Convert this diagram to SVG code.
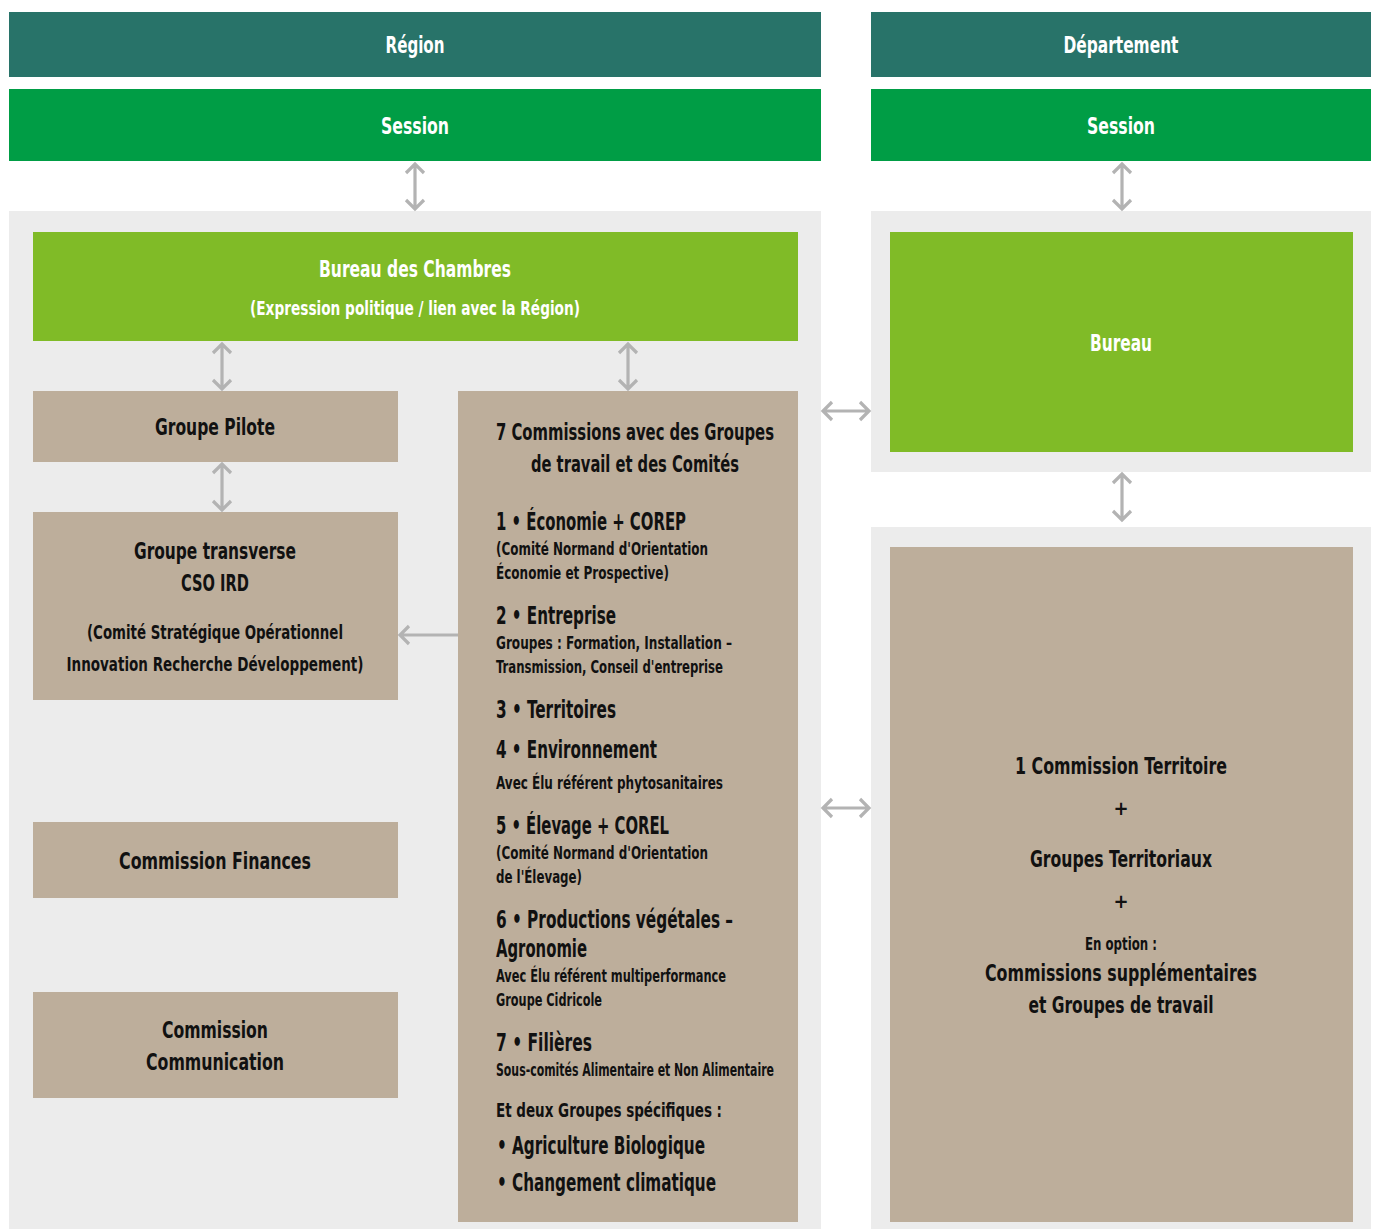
<svg xmlns="http://www.w3.org/2000/svg" width="1376" height="1229" viewBox="0 0 1376 1229">
<style>
text{font-family:"Liberation Sans Narrow","DejaVu Sans Condensed","Liberation Sans",sans-serif;font-stretch:condensed;}
.w{fill:#ffffff;font-weight:bold;font-size:23px;text-anchor:middle;}
.b{fill:#111111;font-weight:bold;font-size:23px;}
.l{font-size:24px;}
.m{fill:#111111;font-weight:bold;font-size:20px;}
.s{fill:#111111;font-weight:bold;font-size:18px;}
.p{fill:#111111;font-weight:bold;font-size:20px;text-anchor:middle;}
.c{text-anchor:middle;}
.head{fill:#287369;}
.sess{fill:#009d45;}
.panel{fill:#ececec;}
.lime{fill:#80bb27;}
.tan{fill:#bdae9b;}
.arr{fill:none;stroke:#b3b3b3;stroke-width:3.2;}
</style>
<rect width="1376" height="1229" fill="#ffffff"/>
<g id="region"><rect class="head" x="9" y="12" width="812" height="65"/><text class="w" x="415" y="53" textLength="59" lengthAdjust="spacingAndGlyphs">Région</text></g>
<g id="departement"><rect class="head" x="871" y="12" width="500" height="65"/><text class="w" x="1121" y="53" textLength="115" lengthAdjust="spacingAndGlyphs">Département</text></g>
<g id="session-region"><rect class="sess" x="9" y="89" width="812" height="72"/><text class="w" x="415" y="134" textLength="68" lengthAdjust="spacingAndGlyphs">Session</text></g>
<g id="session-dep"><rect class="sess" x="871" y="89" width="500" height="72"/><text class="w" x="1121" y="134" textLength="68" lengthAdjust="spacingAndGlyphs">Session</text></g>
<g id="panels"><rect class="panel" x="9" y="211" width="812" height="1018"/><rect class="panel" x="871" y="211" width="500" height="261"/><rect class="panel" x="871" y="527" width="500" height="702"/></g>
<g id="bureau-chambres"><rect class="lime" x="33" y="232" width="765" height="109"/><text class="w" x="415" y="277" textLength="192" lengthAdjust="spacingAndGlyphs">Bureau des Chambres</text><text class="w" x="415" y="315" style="font-size:20px" textLength="330" lengthAdjust="spacingAndGlyphs">(Expression politique / lien avec la Région)</text></g>
<g id="bureau"><rect class="lime" x="890" y="232" width="463" height="220"/><text class="w" x="1121" y="351" textLength="62" lengthAdjust="spacingAndGlyphs">Bureau</text></g>
<g id="groupe-pilote"><rect class="tan" x="33" y="391" width="365" height="71"/><text class="b c" x="215" y="435" textLength="120" lengthAdjust="spacingAndGlyphs">Groupe Pilote</text></g>
<g id="groupe-transverse"><rect class="tan" x="33" y="512" width="365" height="188"/>
<text class="b c" x="215" y="559" textLength="162" lengthAdjust="spacingAndGlyphs">Groupe transverse</text>
<text class="b c" x="215" y="591" textLength="68" lengthAdjust="spacingAndGlyphs">CSO IRD</text>
<text class="m c" x="215" y="639" textLength="256" lengthAdjust="spacingAndGlyphs">(Comité Stratégique Opérationnel</text>
<text class="m c" x="215" y="671" textLength="297" lengthAdjust="spacingAndGlyphs">Innovation Recherche Développement)</text></g>
<g id="commission-finances"><rect class="tan" x="33" y="822" width="365" height="76"/><text class="b c" x="215" y="869" textLength="192" lengthAdjust="spacingAndGlyphs">Commission Finances</text></g>
<g id="commission-communication"><rect class="tan" x="33" y="992" width="365" height="106"/><text class="b c" x="215" y="1038" textLength="106" lengthAdjust="spacingAndGlyphs">Commission</text><text class="b c" x="215" y="1070" textLength="138" lengthAdjust="spacingAndGlyphs">Communication</text></g>
<g id="commissions-7"><rect class="tan" x="458" y="391" width="340" height="831"/>
<text class="b c" x="635" y="440" textLength="278" lengthAdjust="spacingAndGlyphs">7 Commissions avec des Groupes</text>
<text class="b c" x="635" y="472" textLength="208" lengthAdjust="spacingAndGlyphs">de travail et des Comités</text>
<text class="b l" x="496" y="530" textLength="190" lengthAdjust="spacingAndGlyphs">1 • Économie + COREP</text>
<text class="s" x="496" y="555" textLength="212" lengthAdjust="spacingAndGlyphs">(Comité Normand d'Orientation</text>
<text class="s" x="496" y="579" textLength="173" lengthAdjust="spacingAndGlyphs">Économie et Prospective)</text>
<text class="b l" x="496" y="624" textLength="120" lengthAdjust="spacingAndGlyphs">2 • Entreprise</text>
<text class="s" x="496" y="649" textLength="236" lengthAdjust="spacingAndGlyphs">Groupes : Formation, Installation –</text>
<text class="s" x="496" y="673" textLength="227" lengthAdjust="spacingAndGlyphs">Transmission, Conseil d'entreprise</text>
<text class="b l" x="496" y="718" textLength="120" lengthAdjust="spacingAndGlyphs">3 • Territoires</text>
<text class="b l" x="496" y="758" textLength="161" lengthAdjust="spacingAndGlyphs">4 • Environnement</text>
<text class="s" x="496" y="789" textLength="227" lengthAdjust="spacingAndGlyphs">Avec Élu référent phytosanitaires</text>
<text class="b l" x="496" y="834" textLength="173" lengthAdjust="spacingAndGlyphs">5 • Élevage + COREL</text>
<text class="s" x="496" y="859" textLength="212" lengthAdjust="spacingAndGlyphs">(Comité Normand d'Orientation</text>
<text class="s" x="496" y="883" textLength="86" lengthAdjust="spacingAndGlyphs">de l'Élevage)</text>
<text class="b l" x="496" y="928" textLength="237" lengthAdjust="spacingAndGlyphs">6 • Productions végétales –</text>
<text class="b l" x="496" y="957" textLength="91" lengthAdjust="spacingAndGlyphs">Agronomie</text>
<text class="s" x="496" y="982" textLength="230" lengthAdjust="spacingAndGlyphs">Avec Élu référent multiperformance</text>
<text class="s" x="496" y="1006" textLength="106" lengthAdjust="spacingAndGlyphs">Groupe Cidricole</text>
<text class="b l" x="496" y="1051" textLength="96" lengthAdjust="spacingAndGlyphs">7 • Filières</text>
<text class="s" x="496" y="1076" textLength="278" lengthAdjust="spacingAndGlyphs">Sous-comités Alimentaire et Non Alimentaire</text>
<text class="m" x="496" y="1117" textLength="226" lengthAdjust="spacingAndGlyphs">Et deux Groupes spécifiques :</text>
<text class="b l" x="497" y="1154" textLength="208" lengthAdjust="spacingAndGlyphs">• Agriculture Biologique</text>
<text class="b l" x="497" y="1191" textLength="219" lengthAdjust="spacingAndGlyphs">• Changement climatique</text>
</g>
<g id="commission-territoire"><rect class="tan" x="890" y="547" width="463" height="675"/>
<text class="b c" x="1121" y="774" textLength="212" lengthAdjust="spacingAndGlyphs">1 Commission Territoire</text>
<text class="p" x="1121" y="815">+</text>
<text class="b c" x="1121" y="867" textLength="182" lengthAdjust="spacingAndGlyphs">Groupes Territoriaux</text>
<text class="p" x="1121" y="908">+</text>
<text class="s c" x="1121" y="950" textLength="72" lengthAdjust="spacingAndGlyphs">En option :</text>
<text class="b c" x="1121" y="981" textLength="272" lengthAdjust="spacingAndGlyphs">Commissions supplémentaires</text>
<text class="b c" x="1121" y="1013" textLength="185" lengthAdjust="spacingAndGlyphs">et Groupes de travail</text>
</g>
<g id="connectors">
<path class="arr" d="M415,164V209M406,173L415,164L424,173M406,200L415,209L424,200"/>
<path class="arr" d="M1122,164V209M1113,173L1122,164L1131,173M1113,200L1122,209L1131,200"/>
<path class="arr" d="M222,344V389M213,353L222,344L231,353M213,380L222,389L231,380"/>
<path class="arr" d="M628,344V389M619,353L628,344L637,353M619,380L628,389L637,380"/>
<path class="arr" d="M222,464V510M213,473L222,464L231,473M213,501L222,510L231,501"/>
<path class="arr" d="M1122,474V520M1113,483L1122,474L1131,483M1113,511L1122,520L1131,511"/>
<path class="arr" d="M823,411H869M832,402L823,411L832,420M860,402L869,411L860,420"/>
<path class="arr" d="M823,808H869M832,799L823,808L832,817M860,799L869,808L860,817"/>
<path class="arr" d="M458,635H400M409,626L400,635L409,644"/>
</g>
</svg>
